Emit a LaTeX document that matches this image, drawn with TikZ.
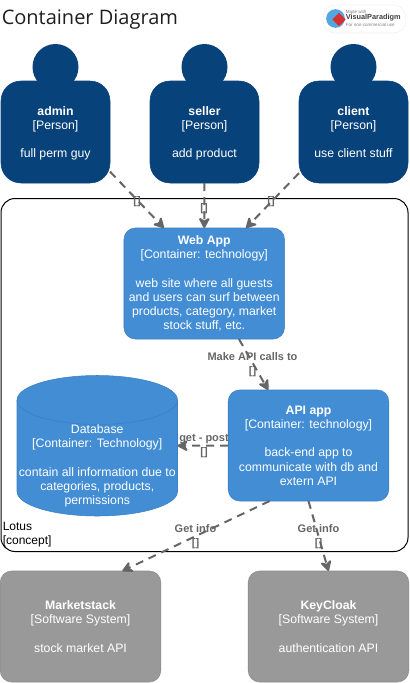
\documentclass[tikz,border=0pt]{standalone}
\usepackage{fontspec}
\setmainfont{Liberation Sans}
\newfontfamily\titlefont{Open Sans}
\usetikzlibrary{arrows.meta,shapes.geometric}
\definecolor{persondark}{RGB}{8,66,123}
\definecolor{containerblue}{RGB}{67,141,213}
\definecolor{containerline}{RGB}{60,127,192}
\definecolor{extgrey}{RGB}{153,153,153}
\definecolor{extline}{RGB}{138,138,138}
\definecolor{relgrey}{RGB}{102,102,102}
\definecolor{badgeline}{RGB}{240,240,240}
\definecolor{globeblue}{RGB}{84,166,222}
\definecolor{badgered}{RGB}{214,48,49}
\tikzset{
  boxtext/.style={text=white,align=center,font=\fontsize{9.2}{10.7}\selectfont},
  personbody/.style={boxtext,fill=persondark,draw=persondark,rounded corners=15pt,
    minimum width=81.75pt,minimum height=76.5pt,inner sep=0pt,outer sep=0pt},
  personhead/.style={circle,fill=persondark,minimum size=34.5pt,inner sep=0pt,outer sep=0pt},
  containerbox/.style={boxtext,fill=containerblue,draw=containerline,rounded corners=8.5pt,
    minimum width=120.4pt,minimum height=83.25pt,inner sep=0pt,outer sep=0pt},
  extbox/.style={boxtext,fill=extgrey,draw=extline,rounded corners=8.5pt,
    minimum width=120.4pt,minimum height=83.25pt,inner sep=0pt,outer sep=0pt},
  relline/.style={relgrey,line width=1.5pt,dash pattern=on 6pt off 4.5pt,
    -{Stealth[inset=3pt,length=9.5pt,width=10pt,round]}},
  rellabel/.style={text=relgrey,align=center,inner sep=0pt,
    font=\fontsize{8.25}{10.4}\selectfont\bfseries},
}
\begin{document}
\begin{tikzpicture}[x=0.75pt,y=-0.75pt]
  \useasboundingbox (0,0) rectangle (410,683);
  \node[anchor=west,inner sep=0pt,text=black!88,font=\fontsize{15}{18}\titlefont] (title) at (1.5,19.5) {Container Diagram};

  \node[fill=white,draw=badgeline,rounded corners=9pt,minimum width=62pt,minimum height=21pt,inner sep=0pt] (badge) at (364.5,19) {};
  \node[circle,fill=globeblue,minimum size=14pt,inner sep=0pt] (globe) at (335.5,18.5) {};
  \node[diamond,fill=badgered,minimum size=10pt,inner sep=0pt] (gem) at (339,19.5) {};
  \node[anchor=west,inner sep=0pt,text=black!50,font=\fontsize{3.4}{4}\selectfont] (madewith) at (345.5,11.5) {Made with};
  \node[anchor=west,inner sep=0pt,text=black!75,font=\fontsize{5.5}{7}\selectfont\bfseries] (vpname) at (345.5,18) {VisualParadigm};
  \node[anchor=west,inner sep=0pt,text=black!50,font=\fontsize{3.4}{4}\selectfont] (vpuse) at (345.5,24.5) {For non-commercial use};

  \foreach \nm/\xx/\what in {admin/55.5/full perm guy,seller/204.5/add product,client/353.5/use client stuff}{
    \node[personhead] (\nm head) at (\xx,67) {};
    \node[personbody] (\nm) at (\xx,132) {\textbf{\nm}\\{[Person]}\\ \\\raisebox{0pt}[\height][0pt]{\what}};
  }

  \node[draw=black,line width=0.75pt,rounded corners=10.5pt,minimum width=305.25pt,minimum height=264.75pt,inner sep=0pt,outer sep=0pt] (lotus) at (204.5,375) {};
  \node[anchor=west,inner sep=0pt,align=left,text=black,font=\fontsize{9}{10.7}\selectfont] (lotuslabel) at (2.5,534.5) {Lotus\\{[concept]}};

  \node[containerbox] (webapp) at (204.25,283.5) {\textbf{Web App}\\{[Container: technology]}\\ \\web site where all guests\\and users can surf between\\products, category, market\\stock stuff, etc.};
  \node[containerbox] (apiapp) at (308.5,445.5) {\textbf{API app}\\{[Container: technology]}\\ \\back-end app to\\communicate with db and\\extern API};
  \draw[fill=containerblue,draw=containerline] (17,400) arc[start angle=180,end angle=360,x radius=80.25,y radius=24.5]
    -- (177.5,491.5) arc[start angle=0,end angle=180,x radius=80.25,y radius=24.5] -- cycle;
  \draw[containerline] (17,400) arc[start angle=180,end angle=0,x radius=80.25,y radius=24.5];
  \node[minimum width=120.4pt,minimum height=105.5pt,inner sep=0pt,outer sep=0pt] (database) at (97.25,445.75) {};
  \node[boxtext] (dbtext) at (97.25,466) {Database\\{[Container: Technology]}\\ \\contain all information due to\\categories, products,\\permissions};

  \node[extbox] (marketstack) at (80.5,626.5) {\textbf{Marketstack}\\{[Software System]}\\ \\stock market API};
  \node[extbox] (keycloak) at (328.5,626.5) {\textbf{KeyCloak}\\{[Software System]}\\ \\authentication API};

  \draw[relline] (admin.-36.3)--(webapp.126.5);
  \draw[relline] (seller.south)--(webapp.north);
  \draw[relline] (client.-143.7)--(webapp.53.5);
  \draw[relline] (webapp.-58.5)--(apiapp.126.1);
  \draw[relline] (apiapp.west)--(database.east);
  \draw[relline] (apiapp.-125.4)--(marketstack.53.9);
  \draw[relline] (apiapp.south)--(keycloak.north);

  \foreach \nm/\xx/\yy in {adminlabel/137/202,sellerlabel/204/209,clientlabel/271/202}{
    \node[rellabel] (\nm) at (\xx,\yy) {[]};
  }
  \node[rellabel] (calllabel) at (252.5,365) {Make API calls to\\{[]}};
  \node[rellabel] (getlabel) at (204,446) {get - post\\{[]}};
  \node[rellabel] (marketlabel) at (195.5,537) {Get info\\{[]}};
  \node[rellabel] (keylabel) at (318.5,537) {Get info\\{[]}};
\end{tikzpicture}
\end{document}
